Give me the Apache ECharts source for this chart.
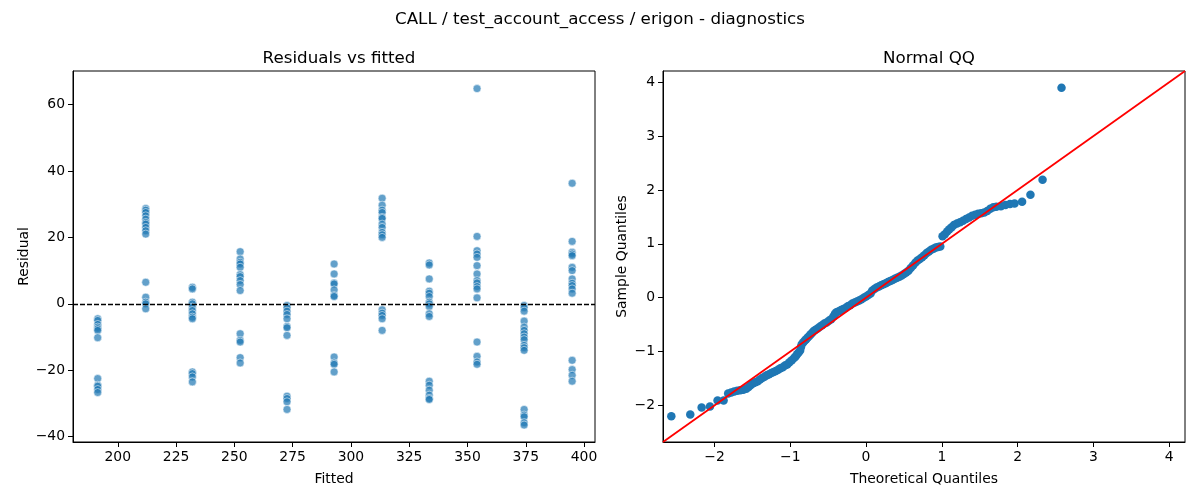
<!DOCTYPE html>
<html>
<head>
<meta charset="utf-8">
<script src="https://cdn.jsdelivr.net/npm/echarts@6/dist/echarts.min.js"></script>
<style>
  html, body { margin: 0; padding: 0; background: #fff; }
  #main { width: 1200px; height: 500px; }
</style>
</head>
<body>
<div id="main"></div>
<script>
// 拟合值（每一组残差对应一个拟合值）
var fittedVals = [191.4, 212.0, 232.0, 252.5, 272.6, 292.8, 313.4, 333.6, 354.1, 374.3, 394.9];

// 每组的残差
var residualGroups = [
    [-4.5, -5, -6.2, -7, -7.5, -8, -10.2, -22.5, -24.5, -24.8, -25.8, -26.7],
    [28.7, 28.2, 27.5, 26.5, 25.5, 24.5, 24, 23, 22, 21, 6.5, 2, 0.5, 0, -1.5],
    [5, 4.5, 0.5, 0, -1, -2, -3, -4, -4.5, -20.5, -21, -22, -23.5],
    [15.7, 13.5, 12.5, 12, 11, 8.8, 8.2, 7, 5.8, 4, -9, -11, -11.5, -16.2, -17.8],
    [-0.5, -1.2, -2.2, -3.2, -4.5, -6.8, -7.2, -9.5, -27.8, -28.5, -29.5, -31.8],
    [12, 9, 6.3, 6, 4.2, 2.5, 2.2, -16, -17.8, -18.2, -20.5],
    [31.8, 29.7, 28.2, 27.5, 26, 25.7, 24, 23, 21.5, 20.8, 20, -1.8, -2.8, -3.5, -4.5, -8],
    [12.3, 11.7, 7.5, 3.8, 3.2, 2.2, 0.5, 0, -0.8, -3, -3.8, -23.3, -24.5, -26, -27.5, -28.5, -28.8],
    [64.8, 20.3, 16, 15, 14, 11.5, 9, 7, 6.3, 5.2, 4.5, 1.8, -11.5, -15.8, -17.5, -18.2],
    [-0.5, -1.2, -2.2, -5.2, -7, -8, -9, -10, -10.8, -12.5, -13.2, -14, -31.8, -33.5, -34, -35.8, -36.5],
    [36.3, 18.8, 15.5, 15, 14.5, 11, 10, 7.5, 6.2, 5.5, 4.5, 3.2, -17, -19.8, -21.5, -23.3]
];

// QQ图的点：[理论分位数, 样本分位数]
var qqPoints = [
    [-2.57,-2.20],[-2.32,-2.17],[-2.17,-2.04],[-2.06,-2.02],[-1.96,-1.91],[-1.88,-1.91],
    [-1.82,-1.78],[-1.78,-1.76],[-1.74,-1.74],[-1.70,-1.73],[-1.66,-1.72],[-1.62,-1.71],
    [-1.58,-1.69],[-1.55,-1.66],[-1.52,-1.62],[-1.49,-1.59],[-1.46,-1.57],[-1.43,-1.55],
    [-1.40,-1.52],[-1.37,-1.49],[-1.34,-1.47],[-1.31,-1.44],[-1.28,-1.42],[-1.25,-1.40],
    [-1.22,-1.38],[-1.19,-1.36],[-1.16,-1.34],[-1.13,-1.31],[-1.10,-1.29],[-1.07,-1.26],
    [-1.04,-1.24],[-1.01,-1.20],[-0.98,-1.16],[-0.95,-1.12],[-0.93,-1.09],[-0.91,-1.05],
    [-0.89,-1.02],[-0.87,-0.98],[-0.86,-0.92],[-0.85,-0.87],[-0.83,-0.83],[-0.81,-0.80],
    [-0.79,-0.77],[-0.77,-0.74],[-0.75,-0.71],[-0.73,-0.68],[-0.71,-0.65],[-0.69,-0.62],
    [-0.67,-0.60],[-0.64,-0.57],[-0.61,-0.54],[-0.58,-0.51],[-0.55,-0.48],[-0.52,-0.46],
    [-0.49,-0.43],[-0.46,-0.40],[-0.43,-0.35],[-0.41,-0.30],[-0.39,-0.27],[-0.36,-0.25],
    [-0.33,-0.23],[-0.30,-0.21],[-0.27,-0.19],[-0.24,-0.16],[-0.21,-0.14],[-0.18,-0.11],
    [-0.15,-0.09],[-0.12,-0.07],[-0.09,-0.05],[-0.06,-0.03],[-0.03,0.00],[0.00,0.02],
    [0.03,0.05],[0.06,0.08],[0.08,0.13],[0.11,0.16],[0.14,0.19],[0.17,0.21],
    [0.20,0.23],[0.23,0.25],[0.26,0.27],[0.29,0.29],[0.32,0.31],[0.35,0.33],
    [0.38,0.35],[0.41,0.37],[0.44,0.39],[0.47,0.41],[0.50,0.44],[0.53,0.47],
    [0.56,0.50],[0.59,0.55],[0.62,0.60],[0.65,0.65],[0.68,0.69],[0.71,0.72],
    [0.74,0.75],[0.77,0.79],[0.80,0.83],[0.83,0.86],[0.86,0.89],[0.89,0.91],
    [0.92,0.93],[0.95,0.94],[0.98,0.95],[1.01,1.14],[1.04,1.18],[1.07,1.23],
    [1.10,1.27],[1.13,1.31],[1.16,1.35],[1.20,1.38],[1.24,1.40],[1.28,1.43],
    [1.32,1.46],[1.36,1.49],[1.40,1.52],[1.44,1.54],[1.48,1.56],[1.52,1.57],
    [1.56,1.58],[1.60,1.61],[1.64,1.65],[1.68,1.68],[1.72,1.69],[1.78,1.70],
    [1.84,1.72],[1.90,1.74],[1.96,1.75],[2.06,1.78],[2.17,1.91],[2.33,2.19],
    [2.58,3.90]
];

// 刻度
var fittedTicks = [200, 225, 250, 275, 300, 325, 350, 375, 400];
var residualTicks = [-40, -20, 0, 20, 40, 60];
var qqTicks = [-2, -1, 0, 1, 2, 3, 4];
var qqRange = [-2.68, 4.21];

// 组装散点数据
var residualData = [];
for (var i = 0; i < fittedVals.length; i++) {
    for (var j = 0; j < residualGroups[i].length; j++) {
        residualData.push([fittedVals[i], residualGroups[i][j]]);
    }
}

var FONT = 'DejaVu Sans';
function minusFmt(v) { return String(v).replace('-', '\u2212'); }

function makeAxis(opt) {
    return Object.assign({
        type: 'value',
        nameLocation: 'middle',
        nameTextStyle: { fontFamily: FONT, fontSize: 13.9, color: '#000' },
        axisLine: { show: true, onZero: false, lineStyle: { color: '#000', width: 1 } },
        splitLine: { show: false }
    }, opt);
}

function ticksOf(vals) {
    return { show: true, length: 5, lineStyle: { color: '#000', width: 1 }, customValues: vals };
}
function labelsOf(vals) {
    return { fontFamily: FONT, fontSize: 13.9, color: '#000', margin: 8, formatter: minusFmt, customValues: vals };
}

var chart = echarts.init(document.getElementById('main'), null, { renderer: 'canvas' });

chart.setOption({
    backgroundColor: '#fff',
    animation: false,
    title: [
        { text: 'CALL / test_account_access / erigon - diagnostics', left: 'center', top: 6,
          textStyle: { fontFamily: FONT, fontSize: 16.7, fontWeight: 'normal', color: '#000' } },
        { text: 'Residuals vs fitted', left: 334, top: 45, textAlign: 'center',
          textStyle: { fontFamily: FONT, fontSize: 16.7, fontWeight: 'normal', color: '#000' } },
        { text: 'Normal QQ', left: 924, top: 45, textAlign: 'center',
          textStyle: { fontFamily: FONT, fontSize: 16.7, fontWeight: 'normal', color: '#000' } }
    ],
    grid: [
        { left: 73, top: 71, width: 522, height: 371, show: true, borderColor: '#000', borderWidth: 1, backgroundColor: 'transparent' },
        { left: 663, top: 71, width: 522, height: 371, show: true, borderColor: '#000', borderWidth: 1, backgroundColor: 'transparent' }
    ],
    xAxis: [
        makeAxis({ gridIndex: 0, min: 180.8, max: 404.7, name: 'Fitted', nameGap: 30,
            axisTick: ticksOf(fittedTicks), axisLabel: labelsOf(fittedTicks) }),
        makeAxis({ gridIndex: 1, min: qqRange[0], max: qqRange[1], name: 'Theoretical Quantiles', nameGap: 30,
            axisTick: ticksOf(qqTicks), axisLabel: labelsOf(qqTicks) })
    ],
    yAxis: [
        makeAxis({ gridIndex: 0, min: -41.6, max: 70.1, name: 'Residual', nameGap: 42, nameRotate: 90,
            axisTick: ticksOf(residualTicks), axisLabel: labelsOf(residualTicks) }),
        makeAxis({ gridIndex: 1, min: qqRange[0], max: qqRange[1], name: 'Sample Quantiles', nameGap: 34, nameRotate: 90,
            axisTick: ticksOf(qqTicks), axisLabel: labelsOf(qqTicks) })
    ],
    series: [
        {
            type: 'scatter', xAxisIndex: 0, yAxisIndex: 0,
            data: residualData, symbolSize: 8,
            itemStyle: { color: '#1f77b4', opacity: 0.7, borderColor: '#fff', borderWidth: 0.75 },
            markLine: {
                silent: true, symbol: 'none', label: { show: false },
                lineStyle: { color: '#000', type: [5, 2], width: 1.3 },
                data: [{ yAxis: 0 }]
            }
        },
        {
            type: 'scatter', xAxisIndex: 1, yAxisIndex: 1,
            data: qqPoints, symbolSize: 8.5,
            itemStyle: { color: '#1f77b4', opacity: 1 }
        },
        {
            type: 'line', xAxisIndex: 1, yAxisIndex: 1,
            data: [[qqRange[0], qqRange[0]], [qqRange[1], qqRange[1]]],
            symbol: 'none', lineStyle: { color: '#ff0000', width: 1.8 }
        }
    ]
});
</script>
</body>
</html>
